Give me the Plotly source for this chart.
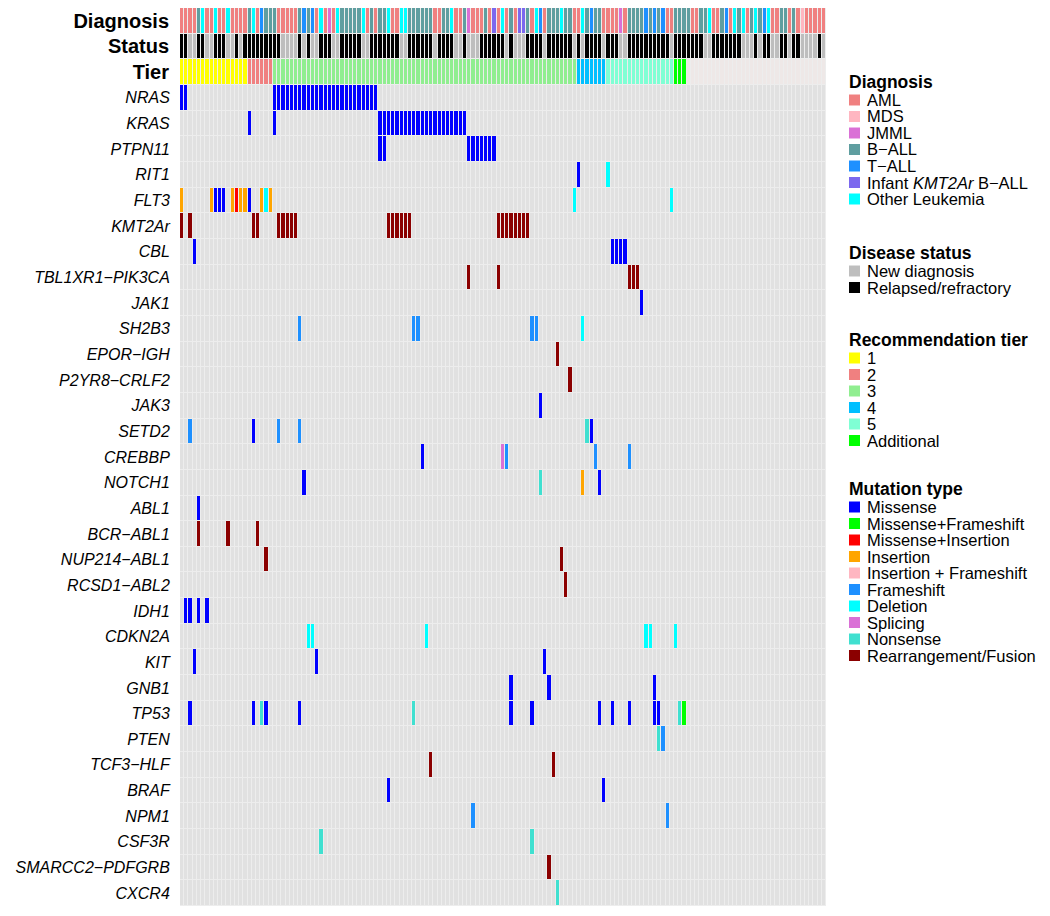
import plotly.graph_objects as go

N_SAMPLES = 153

# sample annotations, written as (category, run length) from left to right
DIAGNOSIS_RUNS = [
    ("AML", 4), ("B-ALL", 1), ("Other", 1), ("AML", 2), ("Other", 1), ("AML", 2), ("Other", 1),
    ("AML", 4), ("B-ALL", 1), ("Other", 1), ("AML", 1), ("T-ALL", 1), ("B-ALL", 3), ("AML", 5),
    ("B-ALL", 1), ("T-ALL", 1), ("B-ALL", 1), ("T-ALL", 1), ("AML", 1), ("Other", 1), ("AML", 1),
    ("JMML", 1), ("AML", 1), ("Other", 1), ("B-ALL", 5), ("Other", 1), ("AML", 1), ("B-ALL", 1),
    ("AML", 1), ("B-ALL", 2), ("Other", 1), ("AML", 2), ("Other", 2), ("B-ALL", 6), ("AML", 2),
    ("B-ALL", 2), ("Other", 1), ("AML", 2), ("B-ALL", 1), ("JMML", 1), ("AML", 3), ("B-ALL", 1),
    ("AML", 1), ("Infant", 1), ("AML", 1), ("Other", 1), ("AML", 1), ("B-ALL", 1), ("AML", 1),
    ("Infant", 2), ("B-ALL", 1), ("AML", 1), ("Other", 1), ("T-ALL", 1), ("AML", 1), ("B-ALL", 3),
    ("Other", 1), ("B-ALL", 2), ("AML", 2), ("Other", 1), ("B-ALL", 1), ("T-ALL", 1), ("B-ALL", 2),
    ("AML", 4), ("JMML", 1), ("AML", 1), ("B-ALL", 4), ("T-ALL", 1), ("B-ALL", 1), ("T-ALL", 1),
    ("B-ALL", 1), ("T-ALL", 1), ("AML", 2), ("B-ALL", 4), ("AML", 2), ("B-ALL", 2), ("Other", 1),
    ("AML", 2), ("B-ALL", 1), ("T-ALL", 1), ("AML", 1), ("Other", 1), ("B-ALL", 1), ("Other", 1),
    ("AML", 1), ("B-ALL", 1), ("Other", 1), ("B-ALL", 1), ("T-ALL", 1), ("Other", 1), ("AML", 2),
    ("B-ALL", 2), ("AML", 1), ("B-ALL", 1), ("AML", 1), ("MDS", 1), ("AML", 5),
]

STATUS_RUNS = [
    ("R", 2), ("N", 2), ("R", 2), ("N", 2), ("R", 3), ("N", 2), ("R", 1), ("N", 1), ("R", 9),
    ("N", 4), ("R", 1), ("N", 1), ("R", 1), ("N", 2), ("R", 3), ("N", 2), ("R", 5), ("N", 2),
    ("R", 7), ("N", 2), ("R", 6), ("N", 1), ("R", 4), ("N", 2), ("R", 1), ("N", 3), ("R", 6),
    ("N", 1), ("R", 1), ("N", 3), ("R", 4), ("N", 1), ("R", 6), ("N", 1), ("R", 1), ("N", 1),
    ("R", 4), ("N", 1), ("R", 3), ("N", 2), ("R", 10), ("N", 1), ("R", 7), ("N", 2), ("R", 7),
    ("N", 3), ("R", 1), ("N", 1), ("R", 2), ("N", 2), ("R", 2), ("N", 1), ("R", 2), ("N", 4),
    ("R", 1), ("N", 1),
]

TIER_RUNS = [("1", 16), ("2", 6), ("3", 72), ("4", 7), ("5", 16), ("Additional", 3), ("NA", 33)]

GENES = [
    "NRAS", "KRAS", "PTPN11", "RIT1", "FLT3", "KMT2Ar", "CBL", "TBL1XR1−PIK3CA", "JAK1",
    "SH2B3", "EPOR−IGH", "P2YR8−CRLF2", "JAK3", "SETD2", "CREBBP", "NOTCH1", "ABL1",
    "BCR−ABL1", "NUP214−ABL1", "RCSD1−ABL2", "IDH1", "CDKN2A", "KIT", "GNB1", "TP53", "PTEN",
    "TCF3−HLF", "BRAF", "NPM1", "CSF3R", "SMARCC2−PDFGRB", "CXCR4",
]

# sample (column) indices carrying each alteration
MUTATIONS = {
    "NRAS": {"Missense": [0, 1] + list(range(22, 47))},
    "KRAS": {"Missense": [16, 22] + list(range(47, 68))},
    "PTPN11": {"Missense": [47, 48] + list(range(68, 75))},
    "RIT1": {"Missense": [94], "Deletion": [101]},
    "FLT3": {"Insertion": [0, 7, 12, 14, 15, 19, 21], "Missense": [8, 9, 10, 16],
             "Missense+Insertion": [13], "Deletion": [20, 93, 116]},
    "KMT2Ar": {"Rearrangement/Fusion": [0, 2, 17, 18, 23, 24, 25, 26, 27, 49, 50, 51, 52, 53, 54,
                                        75, 76, 77, 78, 79, 80, 81, 82]},
    "CBL": {"Missense": [3, 102, 103, 104, 105]},
    "TBL1XR1−PIK3CA": {"Rearrangement/Fusion": [68, 75, 106, 107, 108]},
    "JAK1": {"Missense": [109]},
    "SH2B3": {"Frameshift": [28, 55, 56, 83, 84], "Deletion": [95]},
    "EPOR−IGH": {"Rearrangement/Fusion": [89]},
    "P2YR8−CRLF2": {"Rearrangement/Fusion": [92]},
    "JAK3": {"Missense": [85]},
    "SETD2": {"Frameshift": [2, 23, 28], "Missense": [17, 97], "Nonsense": [96]},
    "CREBBP": {"Missense": [57], "Splicing": [76], "Frameshift": [77, 98, 106]},
    "NOTCH1": {"Missense": [29, 99], "Nonsense": [85], "Insertion": [95]},
    "ABL1": {"Missense": [4]},
    "BCR−ABL1": {"Rearrangement/Fusion": [4, 11, 18]},
    "NUP214−ABL1": {"Rearrangement/Fusion": [20, 90]},
    "RCSD1−ABL2": {"Rearrangement/Fusion": [91]},
    "IDH1": {"Missense": [1, 2, 4, 6]},
    "CDKN2A": {"Deletion": [30, 31, 58, 110, 111, 117]},
    "KIT": {"Missense": [3, 32, 86]},
    "GNB1": {"Missense": [78, 87, 112]},
    "TP53": {"Missense": [2, 17, 20, 28, 78, 83, 99, 102, 106, 112, 113], "Nonsense": [19, 55, 118],
             "Missense+Frameshift": [119]},
    "PTEN": {"Nonsense": [113], "Frameshift": [114]},
    "TCF3−HLF": {"Rearrangement/Fusion": [59, 88]},
    "BRAF": {"Missense": [49, 100]},
    "NPM1": {"Frameshift": [69, 115]},
    "CSF3R": {"Nonsense": [33, 83]},
    "SMARCC2−PDFGRB": {"Rearrangement/Fusion": [87]},
    "CXCR4": {"Nonsense": [89]},
}

DIAGNOSIS_COLORS = {
    "AML": "#F08080", "MDS": "#FFB6C1", "JMML": "#DA70D6", "B-ALL": "#5F9EA0",
    "T-ALL": "#1E90FF", "Infant": "#7B68EE", "Other": "#00FFFF",
}
DIAGNOSIS_LABELS = {
    "AML": "AML", "MDS": "MDS", "JMML": "JMML", "B-ALL": "B−ALL", "T-ALL": "T−ALL",
    "Infant": "Infant <i>KMT2Ar</i> B−ALL", "Other": "Other Leukemia",
}
STATUS_COLORS = {"N": "#BEBEBE", "R": "#000000"}
STATUS_LABELS = {"N": "New diagnosis", "R": "Relapsed/refractory"}
TIER_COLORS = {"1": "#FFFF00", "2": "#F08080", "3": "#90EE90", "4": "#00BFFF", "5": "#7FFFD4",
               "Additional": "#00FF00", "NA": "#EEE8E7"}
MUTATION_COLORS = {
    "Missense": "#0000FF", "Missense+Frameshift": "#00FF00", "Missense+Insertion": "#FF0000",
    "Insertion": "#FFA500", "Insertion + Frameshift": "#FFB6C1", "Frameshift": "#1E90FF",
    "Deletion": "#00FFFF", "Splicing": "#DA70D6", "Nonsense": "#40E0D0",
    "Rearrangement/Fusion": "#8B0000",
}
EMPTY = "#E1E1E1"


def expand(runs):
    out = []
    for cat, n in runs:
        out += [cat] * n
    return out[:N_SAMPLES]


diag = expand(DIAGNOSIS_RUNS)
status = expand(STATUS_RUNS)
tier = expand(TIER_RUNS)

# one discrete palette shared by both heatmaps
palette = []
for c in ([EMPTY] + list(DIAGNOSIS_COLORS.values()) + list(STATUS_COLORS.values())
          + list(TIER_COLORS.values()) + list(MUTATION_COLORS.values())):
    if c not in palette:
        palette.append(c)
idx = {c: i for i, c in enumerate(palette)}
n = len(palette)
cscale = []
for i, c in enumerate(palette):
    cscale += [[i / n, c], [(i + 1) / n, c]]

ann_z = [
    [idx[DIAGNOSIS_COLORS[d]] for d in diag],
    [idx[STATUS_COLORS[s]] for s in status],
    [idx[TIER_COLORS[t]] for t in tier],
]
gene_z = []
for g in GENES:
    row = [idx[EMPTY]] * N_SAMPLES
    for mtype, cols in MUTATIONS[g].items():
        for c in cols:
            row[c] = idx[MUTATION_COLORS[mtype]]
    gene_z.append(row)

x = list(range(N_SAMPLES))
fig = go.Figure()
common = dict(colorscale=cscale, zmin=-0.5, zmax=n - 0.5, showscale=False,
              xgap=1, ygap=1, hoverinfo="skip")
fig.add_trace(go.Heatmap(z=gene_z, x=x, y=list(range(len(GENES))), yaxis="y", **common))
fig.add_trace(go.Heatmap(z=ann_z, x=x, y=[0, 1, 2], yaxis="y2", **common))

# the page adds an 8 px body offset, margins are set to land the plot at x 180..826, y 7..905
W, H = 1050, 916
OFF = 8
L, R, T, B = 172, 232, 0, 18
pw, ph = W - L - R, H - T - B


def px(xp):
    return (xp - OFF - L) / pw


def py(yp):
    return 1 - (yp - OFF - T) / ph


split = 32 / 35
fig.update_layout(
    width=W, height=H,
    margin=dict(l=L, r=R, t=T, b=B, autoexpand=False),
    paper_bgcolor="white", plot_bgcolor="#EDEDED",
    font=dict(family="Liberation Sans, Arial, sans-serif", color="black"),
    xaxis=dict(range=[-0.5, N_SAMPLES - 0.5], showticklabels=False, showgrid=False,
               zeroline=False, ticks=""),
    yaxis=dict(domain=[0, split], range=[len(GENES) - 0.5, -0.5],
               tickvals=list(range(len(GENES))), ticktext=[f"<i>{g}</i>" for g in GENES],
               tickfont=dict(size=16), showgrid=False, zeroline=False,
               ticks="outside", ticklen=6, tickcolor="rgba(0,0,0,0)"),
    yaxis2=dict(domain=[split, 1], range=[2.5, -0.5], tickvals=[0, 1, 2],
                ticktext=["<b>Diagnosis</b>", "<b>Status</b>", "<b>Tier</b>"],
                tickfont=dict(size=20), showgrid=False, zeroline=False,
                ticks="outside", ticklen=6, tickcolor="rgba(0,0,0,0)"),
)

# legend blocks: title y, items (pixel positions of the reference)
legend_blocks = [
    ("Diagnosis", 82, [(DIAGNOSIS_LABELS[k], v) for k, v in DIAGNOSIS_COLORS.items()]),
    ("Disease status", 253, [(STATUS_LABELS[k], v) for k, v in STATUS_COLORS.items()]),
    ("Recommendation tier", 340, [(k, v) for k, v in TIER_COLORS.items() if k != "NA"]),
    ("Mutation type", 489, list(MUTATION_COLORS.items())),
]
step = 16.5
for title, ty, items in legend_blocks:
    fig.add_annotation(x=px(847), y=py(ty), xref="paper", yref="paper", text=f"<b>{title}</b>",
                       showarrow=False, xanchor="left", yanchor="middle", font=dict(size=17.5))
    for i, (lab, col) in enumerate(items):
        yc = ty + 18 + i * step
        fig.add_shape(type="rect", xref="paper", yref="paper",
                      x0=px(849), x1=px(860), y0=py(yc - 5.5), y1=py(yc + 5.5),
                      fillcolor=col, line=dict(width=0))
        fig.add_annotation(x=px(865), y=py(yc), xref="paper", yref="paper", text=lab,
                           showarrow=False, xanchor="left", yanchor="middle", font=dict(size=16.5))

fig.write_html("out.html")
